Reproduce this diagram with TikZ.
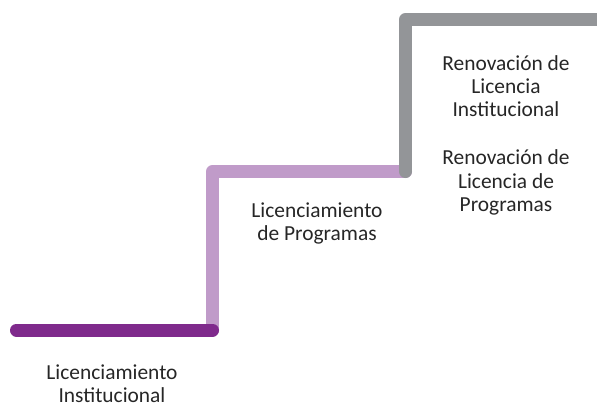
\documentclass[tikz,border=0pt]{standalone}
\usepackage{fontspec}
\setmainfont{Carlito}
\definecolor{stepdark}{HTML}{7F2A8C}
\definecolor{steplight}{HTML}{C09BC9}
\definecolor{stepgray}{HTML}{939598}

\begin{document}
\begin{tikzpicture}[x=1bp,y=-1bp,
    stair/.style={line width=13bp,line cap=round,line join=round},
    steptext/.style={align=center,text=black!85,inner sep=0pt,
      font=\fontsize{21.5}{23.3}\selectfont}]

\useasboundingbox (0,0) rectangle (597,407);

\coordinate (s1) at (16.5,330);
\coordinate (c1) at (212.5,330);
\coordinate (c2) at (212.5,171.5);
\coordinate (c3) at (405.5,171.5);
\coordinate (c4) at (405.5,19.5);
\coordinate (e4) at (630,19.5);

% the three steps
\draw[stair,steplight] (c1) -- (c2) -- (c3);
\draw[stair,stepdark] (s1) -- (c1);
\draw[stair,stepgray] (c3) -- (c4) -- (e4);

\node[steptext] (lic1) at (112,383.5) {Licenciamiento\\Institucional};
\node[steptext] (lic2) at (317,223.5) {Licenciamiento\\de Programas};
\node[steptext] (ren1) at (506,86) {Renovación de\\Licencia\\Institucional};
\node[steptext] (ren2) at (506,182.5) {Renovación de\\Licencia de\\Programas};

\end{tikzpicture}
\end{document}
